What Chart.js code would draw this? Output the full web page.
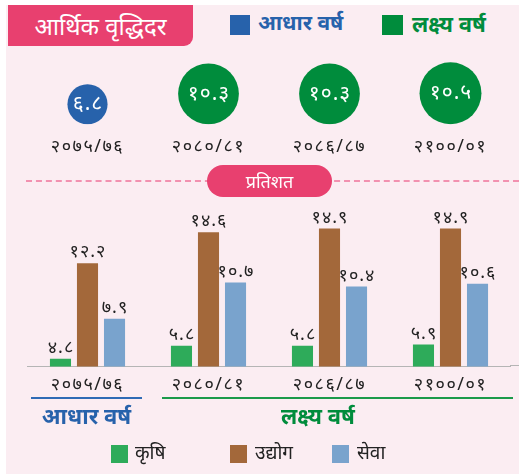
<!DOCTYPE html>
<html>
<head>
<meta charset="utf-8">
<script src="https://cdn.jsdelivr.net/npm/chart.js@4"></script>
<style>
  body { margin: 0; background: #fff; font-family: 'Noto Sans', sans-serif; }
  #panel { position: absolute; left: 6px; top: 5px; width: 513px; height: 469px; background: #fbedf2; }
  .abs { position: absolute; }
  #title { left: 8px; top: 5px; width: 185px; height: 41px; background: #e8406f; border-bottom-right-radius: 9px;
           color: #fff; font-size: 24px; line-height: 41px; text-align: center; }
  .sq { position: absolute; }
  .bold { font-weight: bold; }
  #pill { left: 207px; top: 165px; width: 125px; height: 32px; background: #e8406f; border-radius: 16px;
          color: #fff; font-size: 18px; line-height: 32px; text-align: center; }
  #dash { left: 26px; top: 180px; width: 493px; height: 0; border-top: 2px dashed #f291b0; }
  canvas { position: absolute; }
</style>
</head>
<body>
<div id="panel"></div>
<div id="dash" class="abs"></div>
<div id="title" class="abs">आर्थिक वृद्धिदर</div>

<div class="sq" style="left:230px;top:15px;width:20px;height:20px;background:#2762ab"></div>
<div class="abs bold" style="left:258px;top:8px;font-size:21px;color:#2762ab">आधार वर्ष</div>
<div class="sq" style="left:382px;top:15px;width:21px;height:20px;background:#008c3c"></div>
<div class="abs bold" style="left:412px;top:8px;font-size:22px;color:#008c3c">लक्ष्य वर्ष</div>

<canvas id="growthChart" style="left:27px;top:54px" width="484" height="116"></canvas>

<div id="pill" class="abs">प्रतिशत</div>

<canvas id="sectorChart" style="left:27px;top:200px" width="484" height="204"></canvas>
<div class="abs" style="left:510px;top:365px;width:9px;height:1px;background:#b5b5b5"></div>

<div class="abs" style="left:31px;top:397px;width:111px;height:2px;background:#2f6bb5"></div>
<div class="abs" style="left:162px;top:397px;width:351px;height:2px;background:#1b9a4a"></div>
<div class="abs bold" style="left:31px;top:400px;width:111px;text-align:center;font-size:22px;color:#2762ab">आधार वर्ष</div>
<div class="abs bold" style="left:162px;top:400px;width:312px;text-align:center;font-size:22px;color:#008c3c">लक्ष्य वर्ष</div>

<div class="sq" style="left:111px;top:445px;width:17px;height:18px;background:#2eab5a"></div>
<div class="abs" style="left:135px;top:439px;font-size:19px;color:#222">कृषि</div>
<div class="sq" style="left:230px;top:445px;width:17px;height:18px;background:#a3683a"></div>
<div class="abs" style="left:255px;top:439px;font-size:19px;color:#222">उद्योग</div>
<div class="sq" style="left:332px;top:445px;width:17px;height:18px;background:#79a3cd"></div>
<div class="abs" style="left:357px;top:439px;font-size:19px;color:#222">सेवा</div>

<script>
// data
const years = ['२०७५/७६', '२०८०/८१', '२०८६/८७', '२१००/०१'];
const growthRate = [6.8, 10.3, 10.3, 10.5];
const seriesNames = ['कृषि', 'उद्योग', 'सेवा'];
const agriculture = [4.8, 5.8, 5.8, 5.9];
const industry = [12.2, 14.6, 14.9, 14.9];
const services = [7.9, 10.7, 10.4, 10.6];

const digits = '०१२३४५६७८९';
function toNepali(n) {
    return n.toFixed(1).replace(/[0-9]/g, d => digits[d]);
}

// wider letter spacing for the devanagari numerals (tick labels too)
const spacing = {
    id: 'spacing',
    beforeDraw(chart, args, opts) {
        chart.ctx.letterSpacing = opts.px + 'px';
    }
};

// draws the value of each element, inside bubbles or above bars
const valueLabels = {
    id: 'valueLabels',
    afterDatasetsDraw(chart, args, opts) {
        const ctx = chart.ctx;
        ctx.save();
        ctx.font = opts.font;
        ctx.fillStyle = opts.color;
        ctx.letterSpacing = opts.spacing + 'px';
        ctx.textAlign = 'center';
        chart.data.datasets.forEach((ds, i) => {
            chart.getDatasetMeta(i).data.forEach((el, j) => {
                const txt = toNepali(ds.values[j]);
                const x = el.x + opts.spacing / 2;
                if (opts.inside) {
                    ctx.textBaseline = 'middle';
                    ctx.fillText(txt, x, el.y);
                } else {
                    ctx.textBaseline = 'bottom';
                    ctx.fillText(txt, x, el.y - 2);
                }
            });
        });
        ctx.restore();
    }
};

const tickFont = { family: "'Noto Sans', sans-serif", size: 18 };

// growth rate bubbles, radius scaled by value, sitting on a common base
const bubbleScale = 2.95;
new Chart(document.getElementById('growthChart'), {
    type: 'bubble',
    data: {
        labels: years,
        datasets: [{
            data: growthRate.map((v, i) => ({ x: years[i], y: v * bubbleScale, r: v * bubbleScale })),
            values: growthRate,
            backgroundColor: growthRate.map((v, i) => i === 0 ? '#2762ab' : '#008c3c'),
            borderWidth: 0
        }]
    },
    options: {
        responsive: false,
        animation: false,
        layout: { padding: 0, autoPadding: false },
        plugins: {
            legend: { display: false },
            tooltip: { enabled: false },
            spacing: { px: 1.5 },
            valueLabels: { font: "21px 'Noto Sans', sans-serif", color: '#fff', inside: true, spacing: 1 }
        },
        scales: {
            x: {
                type: 'category',
                offset: true,
                grid: { display: false, drawTicks: false },
                border: { display: false },
                ticks: { color: '#222', font: tickFont, padding: 12 }
            },
            y: { display: false, min: 0, max: 70 }
        }
    },
    plugins: [spacing, valueLabels]
});

// sector growth bars
new Chart(document.getElementById('sectorChart'), {
    type: 'bar',
    data: {
        labels: years,
        datasets: [
            { label: seriesNames[0], data: agriculture, values: agriculture, backgroundColor: '#2eab5a' },
            { label: seriesNames[1], data: industry, values: industry, backgroundColor: '#a3683a' },
            { label: seriesNames[2], data: services, values: services, backgroundColor: '#79a3cd' }
        ]
    },
    options: {
        responsive: false,
        animation: false,
        layout: { padding: 0 },
        datasets: { bar: { categoryPercentage: 0.67, barPercentage: 0.78 } },
        plugins: {
            legend: { display: false },
            tooltip: { enabled: false },
            spacing: { px: 1.5 },
            valueLabels: { font: "18px 'Noto Sans', sans-serif", color: '#222', inside: false, spacing: 1 }
        },
        scales: {
            x: {
                grid: { display: false, drawTicks: false },
                border: { display: true, color: '#b5b5b5', width: 1 },
                ticks: { color: '#222', font: tickFont, padding: 8 }
            },
            y: { display: false, min: 4.2, max: 17.1 }
        }
    },
    plugins: [spacing, valueLabels]
});
</script>
</body>
</html>
